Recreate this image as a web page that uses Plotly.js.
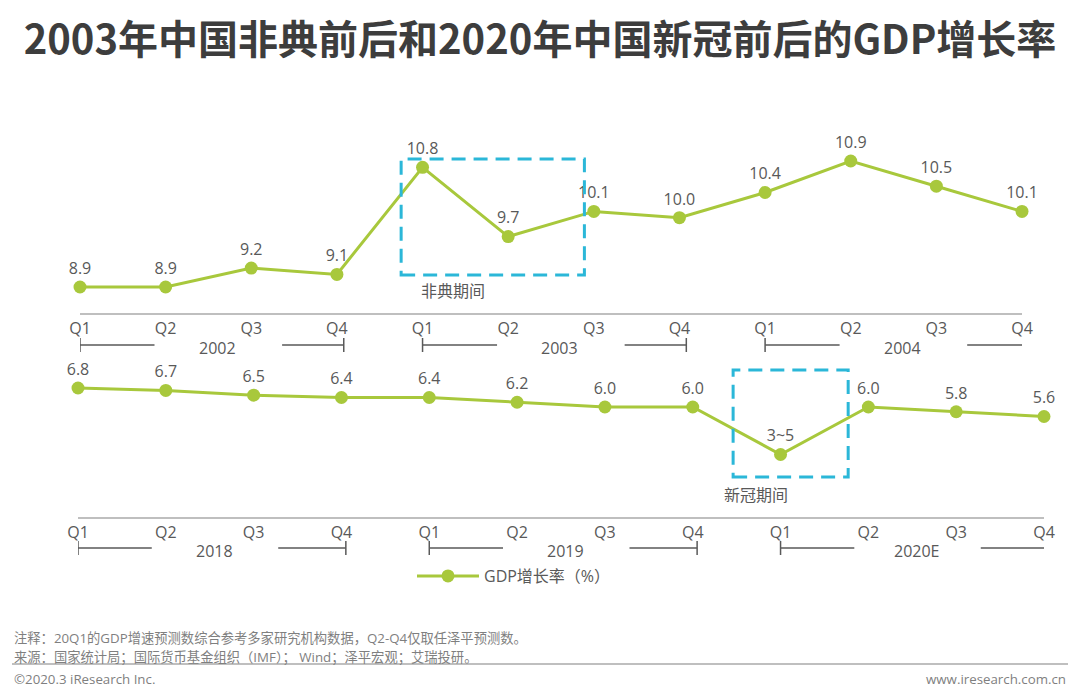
<!DOCTYPE html>
<html>
<head>
<meta charset="utf-8">
<script src="https://cdn.plot.ly/plotly-3.0.1.min.js"></script>
<style>
	html, body { margin: 0; padding: 0; background: #fff; }
	#chart { width: 1080px; height: 699px; }
</style>
</head>
<body>
<div id="chart"></div>
<script>
'use strict';

// quarters and years on both panels
const quarters = ["Q1", "Q2", "Q3", "Q4"];
const yearsSars = ["2002", "2003", "2004"];
const yearsCovid = ["2018", "2019", "2020E"];

// GDP growth, %
const gdpSars = [8.9, 8.9, 9.2, 9.1, 10.8, 9.7, 10.1, 10.0, 10.4, 10.9, 10.5, 10.1];
const gdpCovid = [6.8, 6.7, 6.5, 6.4, 6.4, 6.2, 6.0, 6.0, 4.0, 6.0, 5.8, 5.6];
const labelsSars = ["8.9", "8.9", "9.2", "9.1", "10.8", "9.7", "10.1", "10.0", "10.4", "10.9", "10.5", "10.1"];
const labelsCovid = ["6.8", "6.7", "6.5", "6.4", "6.4", "6.2", "6.0", "6.0", "3~5", "6.0", "5.8", "5.6"];

const seriesName = "GDP增长率（%）";
const titleText = "2003年中国非典前后和2020年中国新冠前后的GDP增长率";
const noteText = "注释：20Q1的GDP增速预测数综合参考多家研究机构数据，Q2-Q4仅取任泽平预测数。";
const sourceText = "来源：国家统计局；国际货币基金组织（IMF）； Wind；泽平宏观；艾瑞投研。";

document.addEventListener('DOMContentLoaded', function(){

	const W = 1080;
	const H = 699;
	const green = "#a8c83c";
	const grey = "#595959";
	const light = "#7f7f7f";
	const cyan = "#2bb7d8";
	const family = "Open Sans, Noto Sans CJK SC, sans-serif";

	// pixel helpers for paper coords
	function px(x) { return x / W; }
	function py(y) { return 1 - y / H; }

	const idx = gdpSars.map(function(v, i) { return i; });
	const tickText = idx.map(function(i) { return quarters[i % 4]; });

	const traceTop = {
		x: idx, y: gdpSars, text: labelsSars,
		xaxis: "x", yaxis: "y",
		type: "scatter", mode: "lines+markers+text",
		textposition: "top center",
		textfont: {size: 16, color: grey, family: family},
		line: {color: green, width: 3},
		marker: {color: green, size: 13},
		cliponaxis: false,
		showlegend: false,
		hoverinfo: "skip"
	};

	const traceBottom = {
		x: idx, y: gdpCovid, text: labelsCovid,
		xaxis: "x2", yaxis: "y2",
		name: seriesName,
		type: "scatter", mode: "lines+markers+text",
		textposition: "top center",
		textfont: {size: 16, color: grey, family: family},
		line: {color: green, width: 3},
		marker: {color: green, size: 13},
		cliponaxis: false,
		showlegend: true,
		hoverinfo: "skip"
	};

	function xAxis(domain, anchor)
	{
		return {
			domain: domain, range: [0, 11], anchor: anchor,
			showline: true, linecolor: "#bfbfbf", linewidth: 1.5,
			showgrid: false, zeroline: false, ticks: "",
			tickvals: idx, ticktext: tickText,
			tickfont: {size: 16, color: grey, family: family},
			fixedrange: true
		};
	}

	function yAxis(domain, range, anchor)
	{
		return {domain: domain, range: range, anchor: anchor, visible: false, fixedrange: true};
	}

	const shapes = [];
	const annotations = [];

	// year brackets  |----  2002  ----|
	function addYears(years, xref, yPix, leftEnd, rightStart, rightEnd, textOff)
	{
		years.forEach(function(yr, g) {
			const i0 = g * 4;
			const yl = py(yPix);
			const line = {color: grey, width: 1.5};
			shapes.push({type: "line", xref: xref, yref: "paper", x0: i0, x1: i0 + leftEnd, y0: yl, y1: yl, line: line});
			shapes.push({type: "line", xref: xref, yref: "paper", x0: i0, x1: i0, y0: py(yPix - 7), y1: py(yPix + 7), line: line});
			shapes.push({type: "line", xref: xref, yref: "paper", x0: i0 + rightStart, x1: i0 + rightEnd, y0: yl, y1: yl, line: line});
			shapes.push({type: "line", xref: xref, yref: "paper", x0: i0 + rightEnd, x1: i0 + rightEnd, y0: py(yPix - 7), y1: py(yPix + 7), line: line});
			annotations.push({
				xref: xref, yref: "paper", x: i0 + textOff, y: py(yPix + 3),
				text: yr, showarrow: false, xanchor: "center", yanchor: "middle",
				font: {size: 16, color: grey, family: family}
			});
		});
	}

	addYears(yearsSars, "x", 345, 0.87, 2.36, 3.08, 1.6);
	addYears(yearsCovid, "x2", 548, 0.84, 2.28, 3.05, 1.55);

	// dashed boxes around the two shocks
	shapes.push({type: "rect", xref: "x", yref: "y", x0: 3.75, x1: 5.89, y0: 9.09, y1: 10.93,
		line: {color: cyan, width: 3, dash: "14px,8px"}});
	shapes.push({type: "rect", xref: "x2", yref: "y2", x0: 7.46, x1: 8.77, y0: 3.05, y1: 7.56,
		line: {color: cyan, width: 3, dash: "14px,8px"}});

	annotations.push({xref: "x", yref: "paper", x: 4.36, y: py(291), yanchor: "middle", text: "非典期间", showarrow: false,
		font: {size: 16, color: grey, family: family}});
	annotations.push({xref: "x2", yref: "paper", x: 7.72, y: py(495), yanchor: "middle", text: "新冠期间", showarrow: false,
		font: {size: 16, color: grey, family: family}});

	// footer
	shapes.push({type: "line", xref: "paper", yref: "paper", x0: px(12), x1: px(1068), y0: py(664), y1: py(664),
		line: {color: "#bfbfbf", width: 2}});
	const small = {size: 13.3, color: light, family: family};
	annotations.push({xref: "paper", yref: "paper", x: px(12), y: py(638), xanchor: "left", yanchor: "middle",
		text: noteText, showarrow: false, font: small});
	annotations.push({xref: "paper", yref: "paper", x: px(12), y: py(657), xanchor: "left", yanchor: "middle",
		text: sourceText, showarrow: false, font: small});
	annotations.push({xref: "paper", yref: "paper", x: px(12), y: py(679), xanchor: "left", yanchor: "middle",
		text: "©2020.3 iResearch Inc.", showarrow: false, font: small});
	annotations.push({xref: "paper", yref: "paper", x: px(1068), y: py(679), xanchor: "right", yanchor: "middle",
		text: "www.iresearch.com.cn", showarrow: false, font: small});

	const layout = {
		width: W, height: H,
		margin: {l: 0, r: 0, t: 0, b: 0},
		paper_bgcolor: "#ffffff", plot_bgcolor: "#ffffff",
		title: {
			text: "<b>" + titleText + "</b>",
			x: 0.5, xanchor: "center", y: py(40), yanchor: "middle",
			font: {size: 40, color: "#3d3d3d", family: "Noto Sans CJK SC, sans-serif"}
		},
		xaxis: xAxis([px(80), px(1022)], "y"),
		yaxis: yAxis([py(313), py(140)], [8.9 - 26 / 63, 8.9 + 147 / 63], "x"),
		xaxis2: xAxis([px(78), px(1044)], "y2"),
		yaxis2: yAxis([py(517), py(365)], [6.0 - 110 / 23.75, 6.0 + 42 / 23.75], "x2"),
		showlegend: true,
		legend: {
			orientation: "h", x: px(412), y: py(576), xanchor: "left", yanchor: "middle",
			itemwidth: 62,
			font: {size: 16, color: grey, family: family},
			bgcolor: "rgba(0,0,0,0)"
		},
		shapes: shapes,
		annotations: annotations
	};

	Plotly.newPlot("chart", [traceTop, traceBottom], layout, {displayModeBar: false, staticPlot: true});
});
</script>
</body>
</html>
